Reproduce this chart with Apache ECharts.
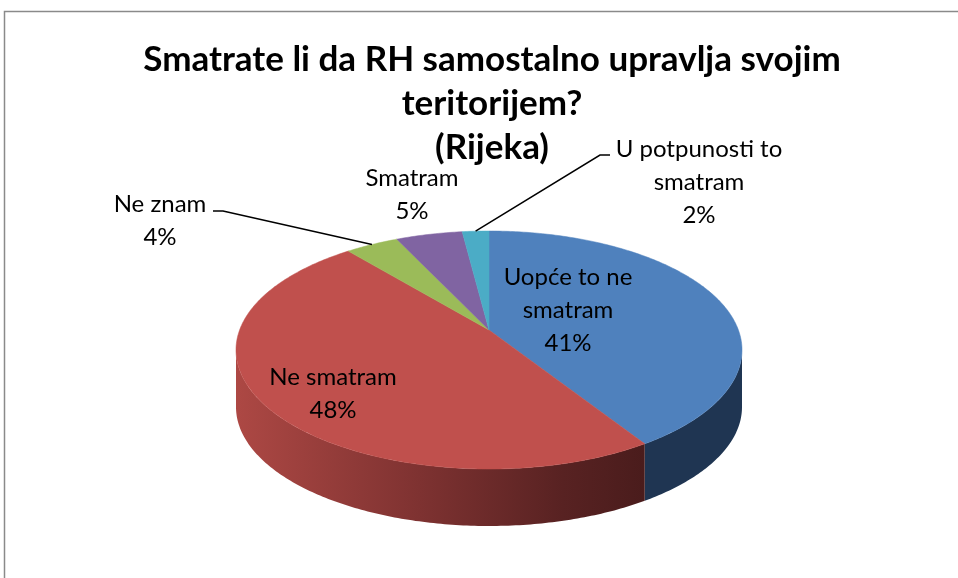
<!DOCTYPE html>
<html>
<head>
<meta charset="utf-8">
<script src="https://cdn.jsdelivr.net/npm/echarts@6/dist/echarts.min.js"></script>
<style>
html, body { margin: 0; padding: 0; background: #fff; }
#main { width: 958px; height: 578px; }
</style>
</head>
<body>
<div id="main"></div>
<script>
var chart = echarts.init(document.getElementById('main'));

// podaci
var categories = ['Uopće to ne smatram', 'Ne smatram', 'Ne znam', 'Smatram', 'U potpunosti to smatram'];
var values = [41, 48, 4, 5, 2];
var labelNames = ['Uopće to ne\nsmatram', 'Ne smatram', 'Ne znam', 'Smatram', 'U potpunosti to\nsmatram'];

var topColors = ['#4F81BD', '#C0504D', '#9BBB59', '#8064A2', '#4BACC6'];
var sideColors = [
    '#1F3552',
    new echarts.graphic.LinearGradient(0, 0, 1, 0, [
        { offset: 0, color: '#AD4844' },
        { offset: 0.45, color: '#7E3231' },
        { offset: 0.8, color: '#582222' },
        { offset: 1, color: '#4A1C1C' }
    ]),
    '#6E8A3A', '#5A4573', '#2F7C90'
];

// gdje stoje oznake (centar bloka teksta) i pocetak linije vodilice
var labelPos = [[568, 310], [333, 394], [160, 221], [412, 195], [699, 182]];
var leaderStart = [null, null, [[53, -10], [63, -10]], null, [[-89, -27], [-99, -27]]];

var fontName = 'Lato';

// 3D pita (perspektiva)
var cx = 489, cy = 350, rx = 253, ry = 119, depth = 57, beta = 0.168;
var g = Math.sqrt(1 - beta * beta);

function proj(frac, dy) {
    var phi = frac * 2 * Math.PI;
    var u = Math.sin(phi), v = -Math.cos(phi);
    var d = 1 - beta * v;
    return [cx + rx * u * g / d, cy + ry * (v - beta) / d + (dy || 0)];
}
function arcPoints(a, b, dy) {
    var pts = [];
    var n = Math.max(2, Math.ceil((b - a) / 0.002));
    for (var k = 0; k <= n; k++) {
        pts.push(proj(a + (b - a) * k / n, dy));
    }
    return pts;
}
var frontStart = Math.acos(-beta) / (2 * Math.PI);
var frontEnd = 1 - frontStart;

var total = values.reduce(function (s, v) { return s + v; }, 0);
var sliceData = [];
var acc = 0;
values.forEach(function (v, i) {
    sliceData.push({ name: categories[i], value: [acc / total, (acc + v) / total, v] });
    acc += v;
});

function renderSlice(params, api) {
    var i = params.dataIndex;
    var f0 = api.value(0), f1 = api.value(1), v = api.value(2);
    var children = [];

    var a = Math.max(f0, frontStart), b = Math.min(f1, frontEnd);
    if (b > a) {
        var wall = arcPoints(a, b, 0).concat(arcPoints(a, b, depth).reverse());
        children.push({
            type: 'polygon', shape: { points: wall }, z2: 1,
            style: { fill: sideColors[i], stroke: null }
        });
    }

    var top = [[cx, cy - ry * beta]].concat(arcPoints(f0, f1, 0));
    children.push({
        type: 'polygon', shape: { points: top }, z2: 2,
        style: { fill: topColors[i], stroke: topColors[i], lineWidth: 0.5 }
    });

    var lp = labelPos[i];
    var pct = Math.round(v / total * 100) + '%';
    children.push({
        type: 'text', x: lp[0], y: lp[1], z2: 10,
        style: {
            text: labelNames[i] + '\n' + pct,
            fill: '#000',
            fontSize: 24,
            fontFamily: fontName,
            lineHeight: 33,
            align: 'center', verticalAlign: 'middle',
            textAlign: 'center', textVerticalAlign: 'middle'
        }
    });

    if (leaderStart[i]) {
        var mid = proj((f0 + f1) / 2, 0);
        var pts = leaderStart[i].map(function (o) { return [lp[0] + o[0], lp[1] + o[1]]; });
        pts.push(mid);
        children.push({
            type: 'polyline', shape: { points: pts }, z2: 9,
            style: { stroke: '#000', lineWidth: 1.5, fill: null }
        });
    }

    return { type: 'group', children: children };
}

var option = {
    animation: false,
    backgroundColor: '#fff',
    title: {
        text: 'Smatrate li da RH samostalno upravlja svojim\nteritorijem?\n(Rijeka)',
        left: 487,
        top: 33,
        textAlign: 'center',
        textStyle: {
            fontFamily: fontName,
            fontWeight: 'bold',
            fontSize: 35,
            lineHeight: 44,
            color: '#000'
        }
    },
    graphic: [{
        type: 'polyline',
        shape: { points: [[4.5, 578], [4.5, 11.5], [958, 11.5]] },
        style: { stroke: '#8a8a8a', lineWidth: 1.5, fill: null }
    }],
    series: [{
        type: 'custom',
        coordinateSystem: 'none',
        renderItem: renderSlice,
        data: sliceData
    }]
};

chart.setOption(option);
</script>
</body>
</html>
